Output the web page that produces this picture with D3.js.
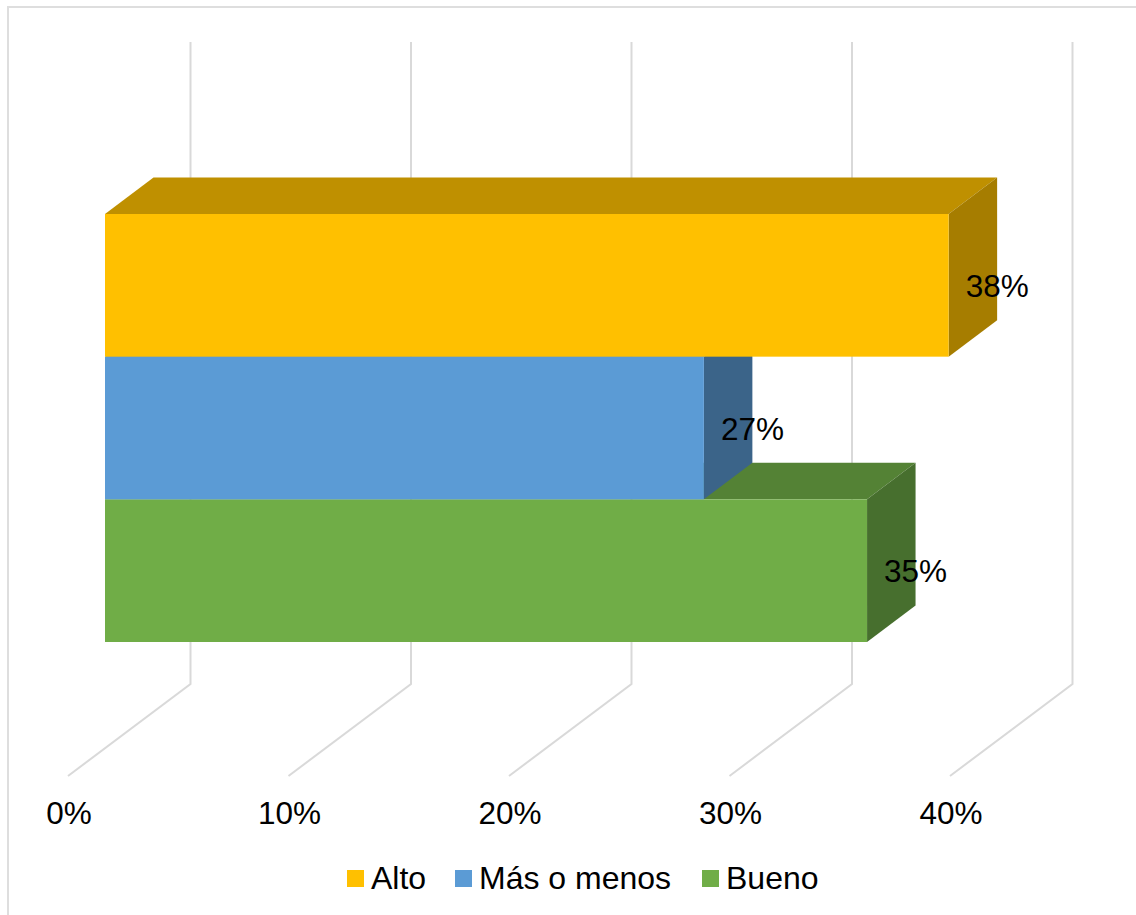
<!DOCTYPE html>
<html><head><meta charset="utf-8"><script src="https://cdn.jsdelivr.net/npm/d3@7"></script>
<style>html,body{margin:0;padding:0;background:#fff;overflow:hidden}svg{display:block}text{font-family:"Liberation Sans",Arial,sans-serif;fill:#000}</style></head>
<body><script>
const categories=["Alto","Más o menos","Bueno"];
const values=[38.26,27.16,34.56];
const frontColors=["#ffc000","#5b9bd5","#70ad47"];
const topColors=["#bf9000","#44749f","#548235"];
const sideColors=["#a67d00","#3b6489","#476f2e"];
const ticks=[0,10,20,30,40];
const svg=d3.select("body").append("svg").attr("width",1136).attr("height",915);
svg.append("rect").attr("x",8).attr("y",7).attr("width",1140).attr("height",1000).attr("fill","#fff").attr("stroke","#dedede").attr("stroke-width",2);
const x=d3.scaleLinear().domain([0,40]).range([68,950]);
const dx=122.5,dy=-92,backTop=42,floorY=776;
const fmt=d=>d3.format(".0f")(d)+"%";
ticks.forEach(t=>{
 const px=x(t);
 svg.append("path").attr("d",`M${px},${floorY}L${px+dx},${floorY+dy}L${px+dx},${backTop}`).attr("fill","none").attr("stroke","#d9d9d9").attr("stroke-width",2);
 svg.append("text").attr("x",px+1).attr("y",824).attr("text-anchor","middle").style("font-size","31.5px").text(fmt(t));
});
const y=d3.scaleBand().domain(categories).range([214,642]);
const bx=x(0)+37, ox=48.5, oy=-36.5;
const barEnd=v=>x(v)+37;
const order=[2,1,0];
order.forEach(i=>{
 const c=categories[i],x1=barEnd(values[i]),y0=y(c),y1=y0+y.bandwidth();
 svg.append("path").attr("d",`M${bx},${y0}L${bx+ox},${y0+oy}L${x1+ox},${y0+oy}L${x1},${y0}Z`).attr("fill",topColors[i]);
 svg.append("path").attr("d",`M${x1},${y0}L${x1+ox},${y0+oy}L${x1+ox},${y1+oy}L${x1},${y1}Z`).attr("fill",sideColors[i]);
 svg.append("rect").attr("x",bx).attr("y",y0).attr("width",x1-bx).attr("height",y.bandwidth()).attr("fill",frontColors[i]);
});
order.forEach(i=>{
 const c=categories[i],x1=barEnd(values[i]);
 svg.append("text").attr("x",x1+17).attr("y",y(c)+y.bandwidth()/2+11.5).style("font-size","31.5px").text(fmt(values[i]));
});
const legendX=[347,455,702];
categories.forEach((c,i)=>{
 svg.append("rect").attr("x",legendX[i]).attr("y",870).attr("width",17).attr("height",17).attr("fill",frontColors[i]);
 svg.append("text").attr("x",legendX[i]+24).attr("y",889).style("font-size","32px").text(c);
});
</script></body></html>
